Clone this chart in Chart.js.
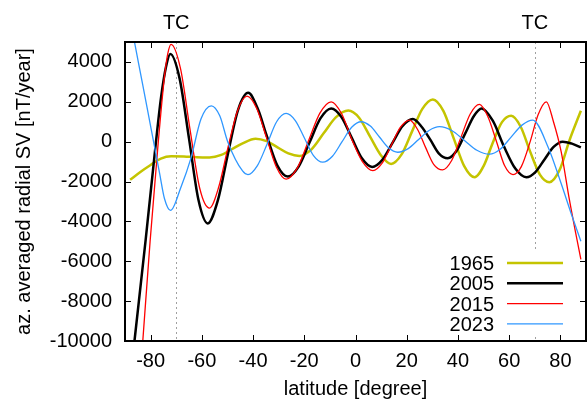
<!DOCTYPE html>
<html>
<head>
<meta charset="utf-8">
<script src="https://cdn.jsdelivr.net/npm/chart.js@4.4.0/dist/chart.umd.min.js"></script>
<style>
  html, body { margin: 0; padding: 0; background: #fff; }
  #wrap { width: 587px; height: 402px; }
</style>
</head>
<body>
<div id="wrap"><canvas id="chart" width="587" height="402"></canvas></div>
<script>
// Axis ticks and the two tangent cylinder latitudes
const xTicks = [-80, -60, -40, -20, 0, 20, 40, 60, 80];
const yTicks = [-10000, -8000, -6000, -4000, -2000, 0, 2000, 4000];
const tcLatitudes = [-70, 70];

// Series: latitude [degree] and az. averaged radial SV [nT/year]
const lat1965 = [-88, -84, -80, -76, -72, -67, -62, -57, -52.4, -48.3, -44.1, -39, -34.7, -30.45, -26.2, -21.9, -17.2, -12.45, -7.7, -2.8, 1.4, 5.8, 9.9, 13.9, 18, 22.05, 26.1, 30.2, 34.3, 38.35, 42.4, 46.5, 50.1, 53.6, 57.2, 60.8, 64.5, 68.2, 72, 75.7, 79.7, 83.6, 88];
const sv1965 = [-1915, -1520, -1170, -850, -730, -740, -780, -790, -665, -380, -85, 150, 23, -283, -589, -715, -383, 418, 1219, 1560, 1200, 223, -680, -1115, -640, 503, 1646, 2120, 1548, 168, -1212, -1785, -1200, -50, 980, 1300, 750, -500, -1650, -2030, -1415, 85, 1550];

const lat2005 = [-88, -86.3, -82, -77.9, -75.9, -74, -72.3, -68.65, -65, -61.35, -57.7, -53.75, -49.8, -45.85, -41.9, -38, -34.8, -30.5, -26.4, -22.2, -17.95, -13.7, -9.5, -5.5, -1.5, 2.5, 6.5, 10.5, 14.45, 18.4, 22.4, 25.8, 29.2, 32.6, 36, 39.4, 42.85, 46.3, 49.2, 53.6, 58, 62.4, 66.7, 70.25, 73.8, 77.35, 80.9, 84.5, 88];
const sv2005 = [-12000, -10000, -5000, 0, 2250, 3750, 4400, 3150, 150, -2900, -4100, -2950, -600, 1600, 2450, 1600, 350, -1200, -1750, -1250, -43, 1165, 1665, 1236, 200, -836, -1265, -913, -65, 783, 1135, 750, 100, -600, -835, -469, 415, 1300, 1665, 1050, -250, -1350, -1785, -1524, -893, -262, 0, -100, -285];

const lat2015 = [-88, -83, -80.2, -77, -74.6, -73.3, -72, -68.3, -64.6, -60.8, -57, -53.35, -49.8, -46.05, -42.4, -38.6, -34.75, -30.9, -27.1, -22.7, -18.3, -13.9, -9.5, -5.4, -1.4, 2.7, 6.8, 10.4, 13.95, 17.5, 21.1, 24.3, 27.4, 30.6, 34, 37.6, 41.2, 44.8, 48.4, 51.7, 54.95, 58.2, 61.5, 64.75, 68.2, 71.3, 74.5, 77.3, 80.3, 83.5, 86, 88];
const sv2015 = [-18500, -9900, -5000, 0, 3250, 4420, 4885, 3650, 600, -2350, -3330, -2250, -300, 1550, 2285, 1676, 203, -1270, -1880, -1312, 60, 1432, 2000, 1400, 100, -1000, -1450, -1080, -183, 714, 1085, 600, -300, -1150, -1415, -934, 228, 1390, 1870, 1250, 50, -1200, -1650, -1250, 0, 1350, 2000, 1000, -500, -2900, -4600, -5900];

const lat2023 = [-88, -86.3, -83, -79.8, -76.5, -74.6, -72.2, -68.2, -64.25, -60.3, -56.3, -53, -49.9, -44.1, -42, -38.3, -34.5, -30.8, -27.1, -23.5, -20, -16.4, -12.8, -9, -5.3, -1.5, 2.2, 5.8, 9.35, 12.9, 16.5, 20.6, 24.65, 28.7, 32.8, 37.7, 42.55, 47.4, 52.3, 56.5, 60.75, 65, 69.2, 75.3, 80.3, 84.2, 88];
const sv2023 = [6150, 5000, 2800, 640, -1580, -2850, -3450, -2300, -825, 1150, 1800, 1300, 0, -1470, -1650, -1200, -115, 1000, 1420, 1060, 200, -700, -1030, -730, -15, 720, 1000, 780, 235, -310, -530, -350, 110, 560, 750, 550, 60, -430, -630, -380, 228, 830, 1085, -300, -2100, -3600, -5000];

const FONT = "'Liberation Sans', Arial, Helvetica, sans-serif";

function toPoints(lats, values) {
    return lats.map((lat, i) => ({ x: lat, y: values[i] }));
}

const seriesList = [
    { label: '1965', lats: lat1965, values: sv1965, color: '#c4c400', width: 2.5 },
    { label: '2005', lats: lat2005, values: sv2005, color: '#000000', width: 2.5 },
    { label: '2015', lats: lat2015, values: sv2015, color: '#ff0000', width: 1.3 },
    { label: '2023', lats: lat2023, values: sv2023, color: '#2f97ff', width: 1.3 }
];

// Frame, inward ticks, TC markers and the legend (gnuplot look)
const gnuplotDecor = {
    id: 'gnuplotDecor',
    beforeDatasetsDraw(chart) {
        const { ctx, chartArea: a, scales: { x } } = chart;
        ctx.save();
        ctx.strokeStyle = '#a0a0a0';
        ctx.lineWidth = 1;
        ctx.setLineDash([2, 3]);
        tcLatitudes.forEach(lat => {
            const px = Math.round(x.getPixelForValue(lat)) + 0.5;
            ctx.beginPath();
            ctx.moveTo(px, a.top);
            ctx.lineTo(px, a.bottom);
            ctx.stroke();
        });
        ctx.restore();
    },
    afterDatasetsDraw(chart) {
        const { ctx, chartArea: a, scales: { x, y } } = chart;
        ctx.save();

        // legend box hides the TC line behind it
        ctx.fillStyle = '#ffffff';
        ctx.fillRect(430, 251, 138, 83);
        ctx.font = '20px ' + FONT;
        ctx.textAlign = 'right';
        ctx.textBaseline = 'alphabetic';
        chart.data.datasets.forEach((ds, i) => {
            const base = 270 + i * 20.3;
            ctx.fillStyle = '#000';
            ctx.fillText(ds.label, 494, base);
            ctx.strokeStyle = ds.borderColor;
            ctx.lineWidth = ds.borderWidth;
            ctx.beginPath();
            ctx.moveTo(507, base - 7);
            ctx.lineTo(563, base - 7);
            ctx.stroke();
        });

        // inward tick marks on all four sides
        ctx.strokeStyle = '#000';
        ctx.lineWidth = 1;
        const len = 6;
        xTicks.forEach(v => {
            const px = Math.round(x.getPixelForValue(v)) + 0.5;
            ctx.beginPath();
            ctx.moveTo(px, a.bottom); ctx.lineTo(px, a.bottom - len);
            ctx.moveTo(px, a.top); ctx.lineTo(px, a.top + len);
            ctx.stroke();
        });
        yTicks.forEach(v => {
            const py = Math.round(y.getPixelForValue(v)) + 0.5;
            ctx.beginPath();
            ctx.moveTo(a.left, py); ctx.lineTo(a.left + len, py);
            ctx.moveTo(a.right, py); ctx.lineTo(a.right - len, py);
            ctx.stroke();
        });

        // frame
        ctx.lineWidth = 2;
        ctx.strokeRect(a.left, a.top, a.right - a.left, a.bottom - a.top);

        // TC labels above the plot
        ctx.fillStyle = '#000';
        ctx.textAlign = 'center';
        tcLatitudes.forEach(lat => {
            ctx.fillText('TC', x.getPixelForValue(lat), 29);
        });
        ctx.restore();
    }
};

const tickFont = { family: FONT, size: 20 };

new Chart(document.getElementById('chart'), {
    type: 'line',
    data: {
        datasets: seriesList.map((s, i) => ({
            label: s.label,
            data: toPoints(s.lats, s.values),
            borderColor: s.color,
            borderWidth: s.width,
            pointRadius: 0,
            fill: false,
            cubicInterpolationMode: 'monotone',
            order: seriesList.length - i
        }))
    },
    options: {
        responsive: false,
        animation: false,
        devicePixelRatio: 1,
        layout: { padding: { top: 42, right: 1, left: 0, bottom: 0 } },
        plugins: { legend: { display: false }, tooltip: { enabled: false } },
        scales: {
            x: {
                type: 'linear',
                min: -90,
                max: 90,
                afterFit: s => { s.height = 61; },
                afterBuildTicks: s => { s.ticks = xTicks.map(v => ({ value: v })); },
                grid: { display: false, drawTicks: false },
                border: { display: false },
                ticks: { padding: 8, color: '#000', font: tickFont, maxRotation: 0, autoSkip: false, callback: v => String(v) },
                title: { display: true, text: 'latitude [degree]', color: '#000', font: tickFont, padding: { top: 0, bottom: 1 } }
            },
            y: {
                type: 'linear',
                min: -10000,
                max: 5000,
                afterFit: s => { s.width = 125; },
                afterBuildTicks: s => { s.ticks = yTicks.map(v => ({ value: v })); },
                grid: { display: false, drawTicks: false },
                border: { display: false },
                ticks: { padding: 13, color: '#000', font: tickFont, autoSkip: false, callback: v => String(v) },
                title: { display: true, text: 'az. averaged radial SV [nT/year]', color: '#000', font: tickFont, padding: { top: 12, bottom: 0 } }
            }
        }
    },
    plugins: [gnuplotDecor]
});
</script>
</body>
</html>
